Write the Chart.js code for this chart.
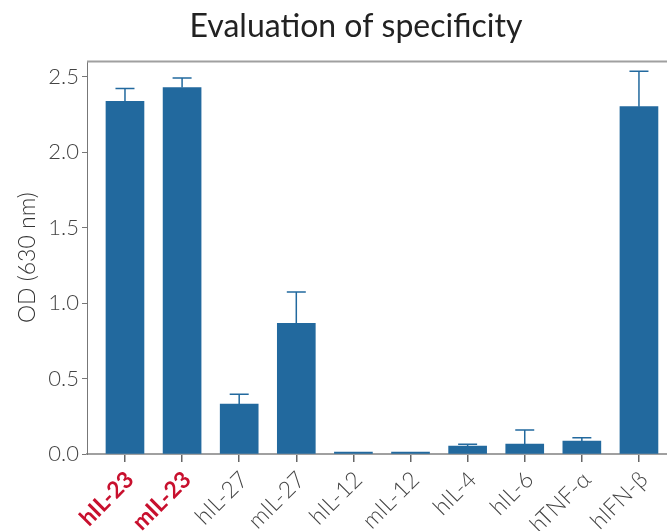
<!DOCTYPE html>
<html>
<head>
<meta charset="utf-8">
<script src="https://cdn.jsdelivr.net/npm/chart.js@4/dist/chart.umd.min.js"></script>
<style>
html,body{margin:0;padding:0;background:#fff;overflow:hidden;}
#wrap{width:667px;height:531px;overflow:hidden;position:relative;}
#box{width:712px;height:531px;position:absolute;left:0;top:0;}
</style>
</head>
<body>
<div id="wrap"><div id="box"><canvas id="c" width="712" height="531"></canvas></div></div>
<script>
const categories = ["hIL-23","mIL-23","hIL-27","mIL-27","hIL-12","mIL-12","hIL-4","hIL-6","hTNF-\u03b1","hIFN-\u03b2"];
const odValues   = [2.335, 2.427, 0.331, 0.866, 0.013, 0.012, 0.053, 0.066, 0.086, 2.30];
const errUpper   = [0.085, 0.063, 0.064, 0.207, 0.000, 0.000, 0.011, 0.093, 0.022, 0.235];
const highlighted = [true, true, false, false, false, false, false, false, false, false];
const yTicks = [0, 0.5, 1.0, 1.5, 2.0, 2.5];

const BLUE = '#22699e';
const RED = '#c8102e';
const GREY = '#444444';

const errorBarPlugin = {
  id: 'errorBars',
  afterDatasetsDraw(chart) {
    const ctx = chart.ctx;
    const xs = chart.scales.x, ys = chart.scales.y;
    ctx.save();
    ctx.strokeStyle = BLUE;
    ctx.lineWidth = 1.5;
    odValues.forEach((v, i) => {
      const e = errUpper[i];
      if (!e) return;
      const x = xs.getPixelForValue(i);
      const y0 = ys.getPixelForValue(v);
      const y1 = ys.getPixelForValue(v + e);
      ctx.beginPath();
      ctx.moveTo(x, y0); ctx.lineTo(x, y1);
      ctx.moveTo(x - 9.5, y1); ctx.lineTo(x + 9.5, y1);
      ctx.stroke();
    });
    ctx.restore();
  }
};
const framePlugin = {
  id: 'frame',
  afterDraw(chart) {
    const a = chart.chartArea, ctx = chart.ctx;
    ctx.save();
    ctx.strokeStyle = '#a0a0a0';
    ctx.lineWidth = 2;
    ctx.beginPath();
    ctx.moveTo(a.left, a.top); ctx.lineTo(a.right, a.top);
    ctx.stroke();
    ctx.restore();
  }
};

new Chart(document.getElementById('c'), {
  type: 'bar',
  data: {
    datasets: [{
      data: odValues.map((v, i) => ({x: i, y: v})),
      backgroundColor: BLUE,
      borderWidth: 0,
      barThickness: 38
    }]
  },
  options: {
    responsive: false,
    animation: false,
    layout: {padding: {left: 0, right: 0, top: 0, bottom: 0}},
    plugins: {
      legend: {display: false},
      tooltip: {enabled: false},
      title: {
        display: true,
        text: 'Evaluation of specificity',
        color: '#222',
        font: {family: 'Lato', size: 32, weight: 'normal'},
        padding: {top: 7, bottom: 16}
      }
    },
    scales: {
      x: {
        type: 'linear',
        offset: false,
        min: -0.665,
        max: 10.279,
        afterBuildTicks(scale) { scale.ticks = categories.map((_, i) => ({value: i})); },
        afterFit(scale) { scale.height = 77; scale.paddingLeft = 0; scale.paddingRight = 0; },
        ticks: {
          autoSkip: false,
          minRotation: 45,
          maxRotation: 45,
          padding: 4,
          labelOffset: 5,
          callback: (v, i) => categories[i],
          color: (c) => highlighted[c.index] ? RED : GREY,
          font: (c) => ({family: 'Lato', size: 23, weight: highlighted[c.index] ? 'bold' : '300'})
        },
        grid: {offset: false, drawOnChartArea: false, drawTicks: true, tickLength: 8, color: '#666', lineWidth: 1.5},
        border: {display: true, color: '#a0a0a0', width: 2}
      },
      y: {
        min: 0,
        max: 2.6,
        afterBuildTicks(scale) { scale.ticks = yTicks.map(v => ({value: v})); },
        afterFit(scale) { scale.width = 87; },
        ticks: {
          color: GREY,
          padding: 3,
          font: {family: 'Lato', size: 22, weight: '300'},
          callback: (v) => Number(v).toFixed(1)
        },
        title: {
          display: true,
          text: 'OD (630 nm)',
          color: '#333',
          font: {family: 'Lato', size: 23, weight: '300'},
          padding: {top: 14, bottom: 0}
        },
        grid: {drawOnChartArea: false, drawTicks: true, tickLength: 5, color: '#777', lineWidth: 1},
        border: {display: true, color: '#777', width: 1}
      }
    }
  },
  plugins: [errorBarPlugin, framePlugin]
});
</script>
</body>
</html>
